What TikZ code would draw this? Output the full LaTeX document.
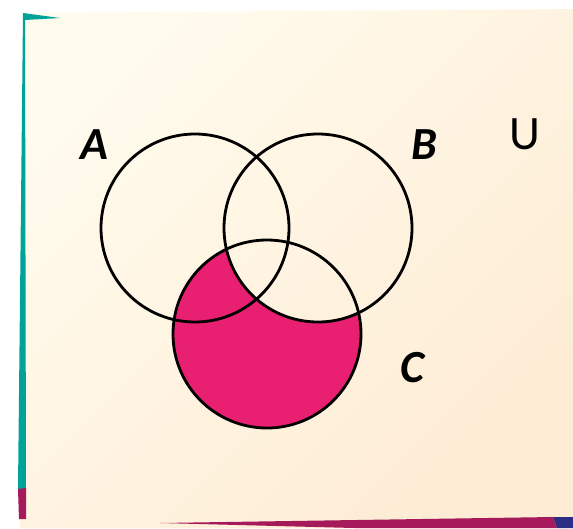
\documentclass[tikz,border=0pt]{standalone}
\usepackage{fontspec}
\setmainfont{Carlito}
\definecolor{paperlight}{RGB}{255,251,237}
\definecolor{paperdark}{RGB}{254,236,212}
\definecolor{setpink}{RGB}{233,31,114}
\definecolor{edgeteal}{RGB}{0,163,152}
\definecolor{edgemagenta}{RGB}{166,25,91}
\definecolor{edgenavy}{RGB}{45,46,131}
\begin{document}
\begin{tikzpicture}[x=1pt,y=1pt,
  setline/.style={line width=2.8pt},
  setlabel/.style={inner sep=0pt,font=\fontsize{46}{46}\selectfont\bfseries\itshape}]
\useasboundingbox (0,0) rectangle (573,-528);
% paper and its edges
\shade[top color=paperlight,middle color=paperlight!75!paperdark,bottom color=paperdark,shading angle=45] (23,-13)--(573,-9)--(573,-528)--(20,-528)--cycle;
\fill[edgeteal] (23,-13)--(60,-18)--(25,-20)--(26,-489)--(18,-489)--cycle;
\fill[edgemagenta] (18,-489)--(26,-488)--(26,-519)--(19,-519)--cycle;
\fill[edgemagenta] (160,-523)--(553,-517)--(557,-528)--(354,-528)--cycle;
\fill[edgenavy] (553,-517)--(573,-517)--(573,-528)--(557,-528)--cycle;
% sets
\coordinate (A) at (195,-228); \coordinate (B) at (318,-228); \coordinate (C) at (267,-334);
\begin{scope}
\clip (C) circle (94);
\fill[setpink,even odd rule] (C) circle (94) (B) circle (94);
\end{scope}
\foreach \p in {A,B,C}{\draw[setline] (\p) circle (94);}
\foreach \p/\px/\py in {A/94/145,B/424/145,C/412/368}{\node[setlabel] (lab\p) at (\px,-\py) {\p};}
\node[inner sep=0pt,font=\fontsize{48}{48}\selectfont] (labU) at (525,-134) {U};
\end{tikzpicture}
\end{document}
